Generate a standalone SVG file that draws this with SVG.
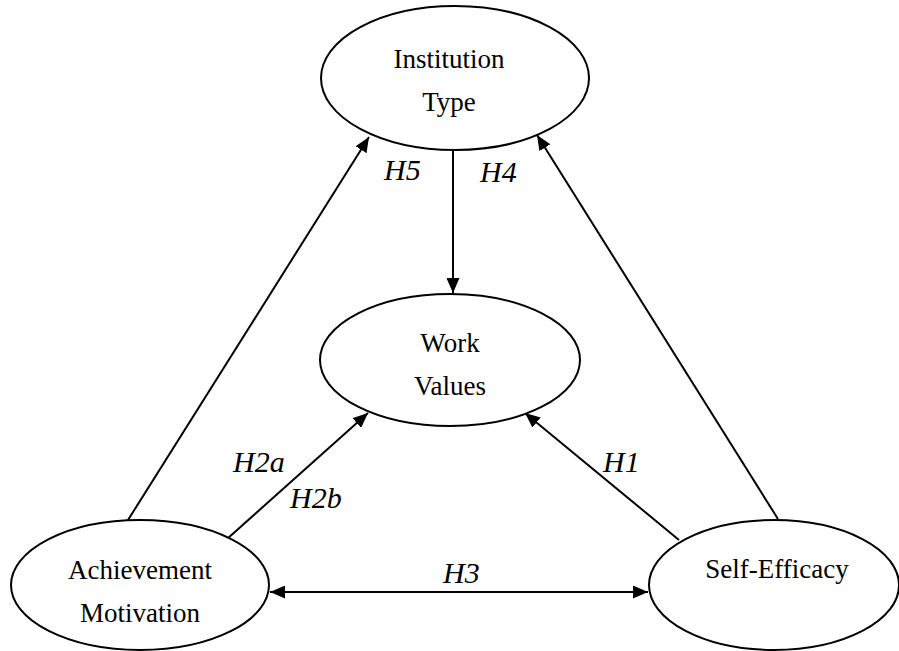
<svg xmlns="http://www.w3.org/2000/svg" width="899" height="651" viewBox="0 0 899 651">
<style>
.node ellipse{fill:#fff;stroke:#000;stroke-width:2}
.lbl{font-size:27px;fill:#000;text-anchor:middle}
.hyp{font-size:30px;font-style:italic;fill:#000}
.edge{stroke:#000;stroke-width:2;fill:none;marker-end:url(#ah)}
</style>
<defs>
<marker id="ah" markerUnits="userSpaceOnUse" markerWidth="16" markerHeight="13" refX="15" refY="6.5" orient="auto-start-reverse">
<path d="M0,0 L15,6.5 L0,13 z" fill="#000"/>
</marker>
</defs>
<rect width="899" height="651" fill="#fff"/>
<g font-family="'Liberation Serif', 'Times New Roman', 'DejaVu Serif', serif">
<g id="connectors">
<line class="edge" x1="453" y1="150" x2="453" y2="293"/>
<line class="edge" x1="128" y1="520" x2="369" y2="137"/>
<line class="edge" x1="778" y1="519" x2="537" y2="135"/>
<line class="edge" x1="227" y1="539" x2="368" y2="413"/>
<line class="edge" x1="679" y1="540" x2="525" y2="413"/>
<line class="edge" x1="270" y1="592" x2="648" y2="592" marker-start="url(#ah)"/>
<text class="hyp" x="384" y="180">H5</text>
<text class="hyp" x="480" y="182">H4</text>
<text class="hyp" x="233" y="472">H2a</text>
<text class="hyp" x="290" y="508">H2b</text>
<text class="hyp" x="603" y="472">H1</text>
<text class="hyp" x="443" y="583">H3</text>
</g>
<g id="institution-type" class="node">
<ellipse cx="455" cy="78" rx="134" ry="72"/>
<text class="lbl" x="449" y="68">Institution</text>
<text class="lbl" x="449" y="111">Type</text>
</g>
<g id="work-values" class="node">
<ellipse cx="450" cy="360" rx="130" ry="66"/>
<text class="lbl" x="450" y="352">Work</text>
<text class="lbl" x="450" y="395">Values</text>
</g>
<g id="achievement-motivation" class="node">
<ellipse cx="140" cy="585" rx="129" ry="65"/>
<text class="lbl" x="140" y="579">Achievement</text>
<text class="lbl" x="140" y="622">Motivation</text>
</g>
<g id="self-efficacy" class="node">
<ellipse cx="774" cy="585" rx="125" ry="65"/>
<text class="lbl" x="777" y="578">Self-Efficacy</text>
</g>
</g>
</svg>
